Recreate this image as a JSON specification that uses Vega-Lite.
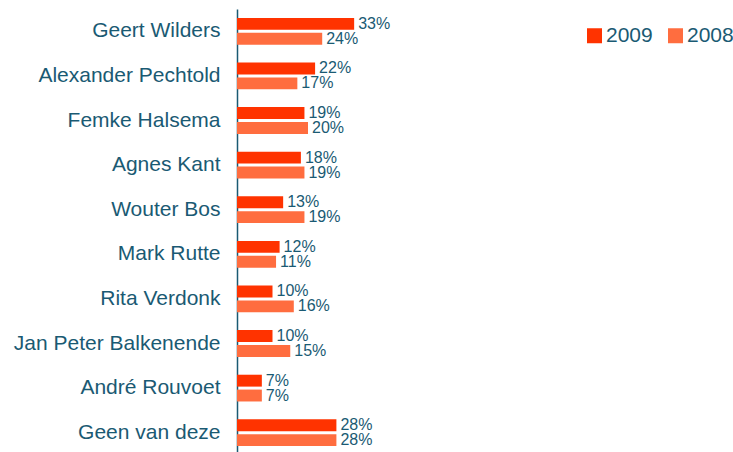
{
  "$schema": "https://vega.github.io/schema/vega-lite/v6.json",
  "width": 355,
  "height": 446,
  "autosize": {"type": "none"},
  "padding": {"left": 237, "top": 9, "right": 141, "bottom": 0},
  "background": "white",
  "config": {
    "view": {"stroke": null},
    "font": "Liberation Sans"
  },
  "data": {
    "values": [
      {"name": "Geert Wilders", "year": "2009", "value": 0.33},
      {"name": "Geert Wilders", "year": "2008", "value": 0.24},
      {"name": "Alexander Pechtold", "year": "2009", "value": 0.22},
      {"name": "Alexander Pechtold", "year": "2008", "value": 0.17},
      {"name": "Femke Halsema", "year": "2009", "value": 0.19},
      {"name": "Femke Halsema", "year": "2008", "value": 0.20},
      {"name": "Agnes Kant", "year": "2009", "value": 0.18},
      {"name": "Agnes Kant", "year": "2008", "value": 0.19},
      {"name": "Wouter Bos", "year": "2009", "value": 0.13},
      {"name": "Wouter Bos", "year": "2008", "value": 0.19},
      {"name": "Mark Rutte", "year": "2009", "value": 0.12},
      {"name": "Mark Rutte", "year": "2008", "value": 0.11},
      {"name": "Rita Verdonk", "year": "2009", "value": 0.10},
      {"name": "Rita Verdonk", "year": "2008", "value": 0.16},
      {"name": "Jan Peter Balkenende", "year": "2009", "value": 0.10},
      {"name": "Jan Peter Balkenende", "year": "2008", "value": 0.15},
      {"name": "André Rouvoet", "year": "2009", "value": 0.07},
      {"name": "André Rouvoet", "year": "2008", "value": 0.07},
      {"name": "Geen van deze", "year": "2009", "value": 0.28},
      {"name": "Geen van deze", "year": "2008", "value": 0.28}
    ]
  },
  "encoding": {
    "y": {
      "field": "name",
      "type": "nominal",
      "sort": null,
      "scale": {"paddingInner": 0.4, "paddingOuter": 0.2},
      "axis": {
        "title": null,
        "ticks": false,
        "labelFontSize": 21,
        "labelColor": "#1A5A73",
        "labelPadding": 17,
        "labelLimit": 300,
        "domainColor": "#1A5A73",
        "domainWidth": 1.5
      }
    },
    "yOffset": {
      "field": "year",
      "type": "nominal",
      "sort": ["2009", "2008"],
      "scale": {"paddingInner": 0.2, "paddingOuter": 0}
    },
    "x": {
      "field": "value",
      "type": "quantitative",
      "scale": {"domain": [0, 1]},
      "axis": null
    }
  },
  "layer": [
    {
      "mark": {"type": "bar"},
      "encoding": {
        "color": {
          "field": "year",
          "type": "nominal",
          "sort": ["2009", "2008"],
          "scale": {"domain": ["2009", "2008"], "range": ["#FF3300", "#FF6D3F"]},
          "legend": {
            "title": null,
            "orient": "none",
            "legendX": 347,
            "legendY": 16,
            "direction": "horizontal",
            "symbolType": "square",
            "symbolSize": 225,
            "symbolStrokeWidth": 0,
            "labelFontSize": 21,
            "labelColor": "#1A5A73",
            "labelOffset": 1,
            "columnPadding": 12
          }
        }
      }
    },
    {
      "mark": {"type": "text", "align": "left", "baseline": "middle", "dx": 4, "fontSize": 16, "color": "#1A5A73"},
      "encoding": {
        "text": {"field": "value", "type": "quantitative", "format": ".0%"}
      }
    }
  ]
}
